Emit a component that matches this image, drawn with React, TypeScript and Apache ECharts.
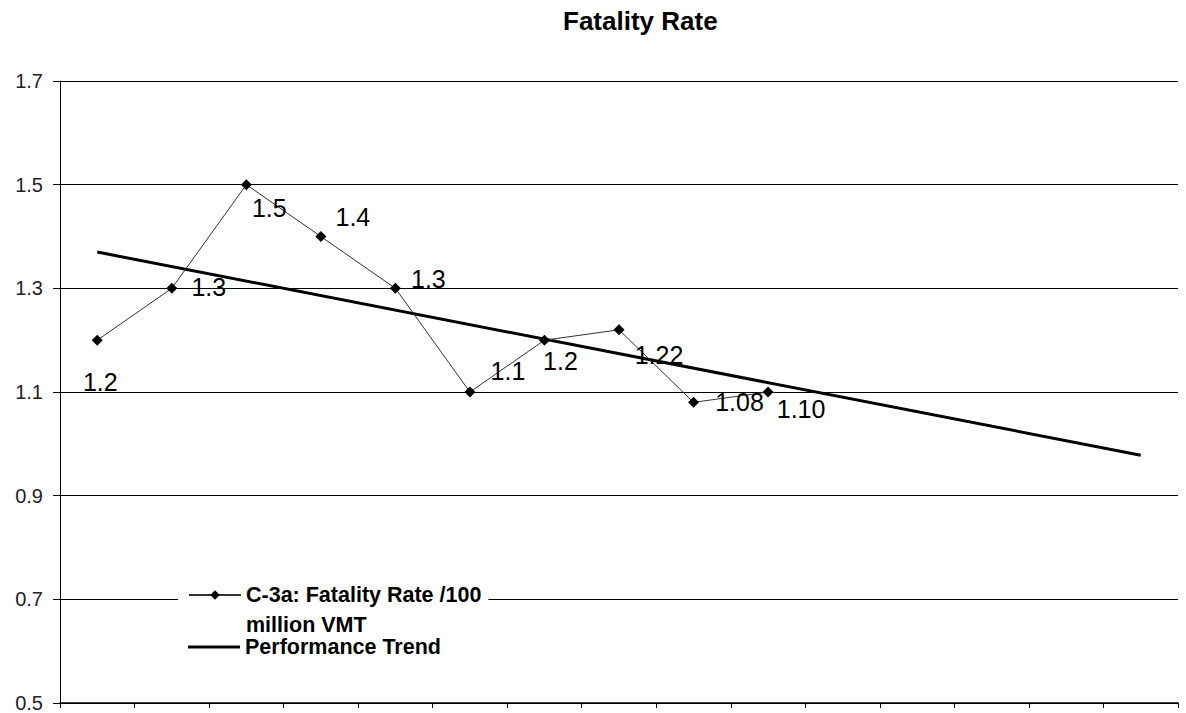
import React, { useEffect, useRef } from "react";
import * as echarts from "echarts";

const categories = ["1", "2", "3", "4", "5", "6", "7", "8", "9", "10", "11", "12", "13", "14", "15"];
const fatalityRate: (number | null)[] = [1.2, 1.3, 1.5, 1.4, 1.3, 1.1, 1.2, 1.22, 1.08, 1.1, null, null, null, null, null];
const rateLabels = ["1.2", "1.3", "1.5", "1.4", "1.3", "1.1", "1.2", "1.22", "1.08", "1.10"];
const trendValues: (number | null)[] = [1.37, null, null, null, null, null, null, null, null, null, null, null, null, null, 0.978];
const yMin = 0.5;
const yMax = 1.7;
const yStep = 0.2;

const seriesName = "C-3a: Fatality Rate /100\nmillion VMT";
const trendName = "Performance Trend";

const labelOffsets: [number, number][] = [
  [3, 42], [37, -1], [23, 23], [32, -20], [33, -9],
  [38, -21], [16, 21], [40, 25], [46, 0], [33, 17],
];

const FONT = "'Liberation Sans', Arial, sans-serif";

export default function App() {
  const ref = useRef<HTMLDivElement>(null);
  useEffect(() => {
    if (!ref.current) return;
    const chart = echarts.init(ref.current, undefined, { renderer: "svg" });
    chart.setOption({
      animation: false,
      backgroundColor: "#fff",
      title: {
        text: "Fatality Rate",
        left: 563,
        top: 8,
        padding: 0,
        textStyle: { fontFamily: FONT, fontSize: 26, fontWeight: "bold", color: "#000" },
      },
      legend: [
        {
          data: [{ name: seriesName }],
          left: 178,
          top: 550,
          orient: "vertical",
          padding: [0, 7, 0, 10],
          backgroundColor: "#fff",
          itemWidth: 52,
          itemHeight: 12,
          selectedMode: false,
          formatter: (name: string) => "\n" + name,
          textStyle: {
            fontFamily: FONT,
            fontSize: 21.5,
            fontWeight: "bold",
            color: "#000",
            lineHeight: 30,
          },
        },
        {
          data: [{ name: trendName, icon: "rect" }],
          left: 178,
          top: 636,
          orient: "vertical",
          padding: [0, 0, 0, 10],
          itemWidth: 52,
          itemHeight: 3,
          selectedMode: false,
          itemStyle: { color: "#000", borderWidth: 0 },
          textStyle: {
            fontFamily: FONT,
            fontSize: 21.5,
            fontWeight: "bold",
            color: "#000",
            lineHeight: 16,
          },
        },
      ],
      grid: { left: 60, right: 8, top: 81, bottom: 9, containLabel: false },
      xAxis: {
        type: "category",
        data: categories,
        boundaryGap: true,
        axisLine: { show: true, lineStyle: { color: "#000", width: 1.5 } },
        axisTick: { show: true, length: 5, interval: 0, lineStyle: { color: "#000" } },
        axisLabel: { show: false },
        splitLine: { show: false },
      },
      yAxis: {
        type: "value",
        min: yMin,
        max: yMax,
        interval: yStep,
        axisLine: { show: true, lineStyle: { color: "#000", width: 1 } },
        axisTick: { show: true, length: 7, lineStyle: { color: "#000" } },
        axisLabel: {
          margin: 17,
          fontFamily: FONT,
          fontSize: 20,
          color: "#222",
          formatter: (v: number) => v.toFixed(1),
        },
        splitLine: { show: true, lineStyle: { color: "#000", width: 1 } },
      },
      series: [
        {
          name: trendName,
          type: "line",
          data: trendValues,
          connectNulls: true,
          symbol: "none",
          lineStyle: { color: "#000", width: 3 },
          itemStyle: { color: "#000" },
          z: 2,
        },
        {
          name: seriesName,
          type: "line",
          data: fatalityRate,
          symbol: "diamond",
          symbolSize: 11,
          lineStyle: { color: "#333", width: 1 },
          itemStyle: { color: "#000" },
          z: 3,
          label: {
            show: true,
            position: "inside",
            align: "center",
            verticalAlign: "middle",
            fontFamily: FONT,
            fontSize: 25,
            color: "#000",
            formatter: (p: any) => rateLabels[p.dataIndex] ?? "",
          },
          labelLayout: (p: any) => {
            const o = labelOffsets[p.dataIndex] || [0, 0];
            return { dx: o[0], dy: o[1] };
          },
        },
      ],
    });
    return () => chart.dispose();
  }, []);
  return (
    <div
      ref={ref}
      style={{ position: "absolute", left: 0, top: 0, width: 1186, height: 713 }}
    />
  );
}
